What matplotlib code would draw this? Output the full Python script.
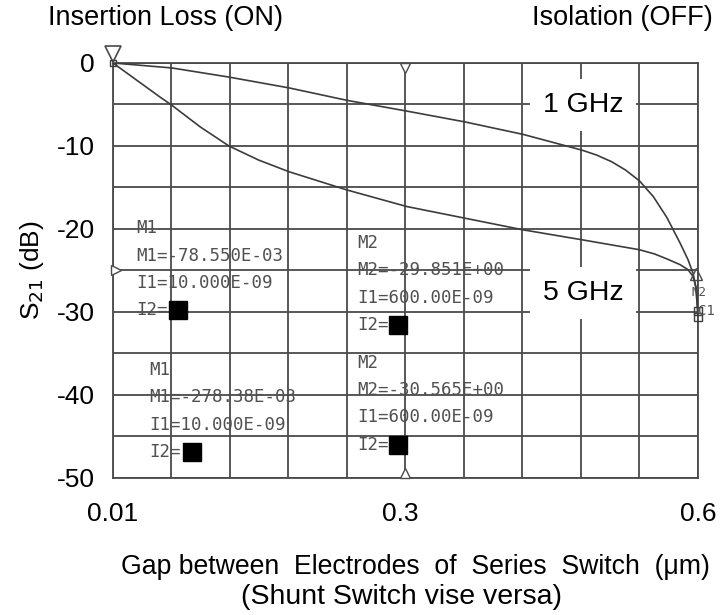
import numpy as np
import matplotlib.pyplot as plt

# gap (um) vs S21 (dB)
gap_1ghz = [0.010, 0.0695, 0.127, 0.1875, 0.246, 0.3065, 0.365, 0.4235, 0.483,
            0.498, 0.513, 0.527, 0.541, 0.555, 0.5686, 0.582, 0.590, 0.595, 0.598, 0.600]
s21_1ghz = [0.0, -0.6, -1.7, -3.0, -4.5, -5.8, -7.1, -8.6, -10.5,
            -11.1, -11.9, -12.9, -14.2, -16.1, -18.6, -21.7, -23.7, -25.3, -27.1, -29.85]

gap_5ghz = [0.010, 0.0574, 0.0695, 0.098, 0.127, 0.157, 0.1875, 0.246, 0.3065, 0.365,
            0.4235, 0.483, 0.512, 0.541, 0.556, 0.5686, 0.582, 0.590, 0.595, 0.598, 0.600]
s21_5ghz = [0.0, -4.1, -5.1, -7.7, -10.0, -11.7, -13.1, -15.3, -17.3, -18.7,
            -20.1, -21.3, -21.9, -22.5, -23.0, -23.6, -24.3, -24.9, -25.7, -27.0, -30.57]

x_ticks = [0.01, 0.3, 0.6]
x_ticklabels = ['0.01', '0.3', '0.6']
y_ticks = [0, -10, -20, -30, -40, -50]

# marker readouts (ADS style)
m1_1ghz = ['M1', 'M1=-78.550E-03', 'I1=10.000E-09', 'I2=']
m1_5ghz = ['M1', 'M1=-278.38E-03', 'I1=10.000E-09', 'I2=']
m2_1ghz = ['M2', 'M2=-29.851E+00', 'I1=600.00E-09', 'I2=']
m2_5ghz = ['M2', 'M2=-30.565E+00', 'I1=600.00E-09', 'I2=']

plt.rcParams['font.family'] = ['Liberation Sans', 'DejaVu Sans']
plt.rcParams['axes.unicode_minus'] = False
line_col = '#3c3c3c'
grid_col = '#4a4a4a'
txt_col = '#505050'

fig = plt.figure(figsize=(7.24, 6.15), dpi=100)
ax = fig.add_axes([0.156, 0.2228, 0.808, 0.6748])

ax.plot(gap_1ghz, s21_1ghz, color=line_col, lw=1.2, zorder=4)
ax.plot(gap_5ghz, s21_5ghz, color=line_col, lw=1.2, zorder=4)

ax.set_xlim(0.01, 0.6)
ax.set_ylim(-50, 0)
ax.set_xticks(x_ticks)
ax.set_xticklabels(x_ticklabels)
ax.set_yticks(y_ticks)
ax.tick_params(which='both', length=0)
ax.tick_params(axis='x', pad=17, labelsize=19)
ax.tick_params(axis='y', pad=13, labelsize=19)
for v in np.linspace(0.01, 0.6, 11):
    ax.axvline(v, color=grid_col, lw=1.3, zorder=1)
for v in np.arange(-50, 1, 5):
    ax.axhline(v, color=grid_col, lw=1.3, zorder=1)
for s in ax.spines.values():
    s.set_color(grid_col)
    s.set_linewidth(1.3)

# axis midpoint markers
ax.plot([0.305], [-0.6], marker='v', ms=7, mfc='white', mec=grid_col, mew=1, zorder=5, clip_on=False)
ax.plot([0.305], [-49.4], marker='^', ms=7, mfc='white', mec=grid_col, mew=1, zorder=5, clip_on=False)
ax.plot([0.0135], [-25], marker='>', ms=7, mfc='white', mec=grid_col, mew=1, zorder=5, clip_on=False)

# marker M1 at top-left, M2 cluster at the right end
ax.plot([0.01], [1.1], marker='v', ms=12, mfc='white', mec=grid_col, mew=1.2, zorder=6, clip_on=False)
ax.plot([0.01], [0.0], marker='s', ms=5, mfc='none', mec=line_col, mew=1, zorder=6, clip_on=False)
ax.plot([0.5985], [-25.4], marker='^', ms=8, mfc='none', mec=grid_col, mew=1, zorder=6, clip_on=False)
ax.plot([0.6, 0.6], [s21_1ghz[-1], s21_5ghz[-1]], ls='none', marker='s', ms=6, mfc='none',
        mec=line_col, mew=1, zorder=6, clip_on=False)
ax.text(0.5935, -27.6, 'M2', fontsize=9, family='DejaVu Sans Mono', color=txt_col,
        va='center', ha='left', zorder=6, clip_on=False)
ax.text(0.6005, -29.9, 'C1', fontsize=10, family='DejaVu Sans Mono', color=txt_col,
        va='center', ha='left', zorder=6, clip_on=False)


def readout(x, y, lines, sq_x):
    for i, s in enumerate(lines):
        ax.text(x, y - i * 3.3, s, fontsize=12.5, family='DejaVu Sans Mono',
                color=txt_col, va='center', ha='left', zorder=3)
    ax.plot([sq_x], [y - 3 * 3.3], marker='s', ms=13, color='black', zorder=3)


readout(0.034, -19.9, m1_1ghz, 0.0756)
readout(0.047, -37.0, m1_5ghz, 0.0897)
readout(0.256, -21.7, m2_1ghz, 0.297)
readout(0.256, -36.1, m2_5ghz, 0.297)

box = dict(facecolor='white', edgecolor='none', boxstyle='square,pad=0.45')
ax.text(0.484, -5.1, '1 GHz', fontsize=20.5, ha='center', va='center', zorder=3, bbox=box)
ax.text(0.484, -27.7, '5 GHz', fontsize=20.5, ha='center', va='center', zorder=3, bbox=box)

ax.set_ylabel('S$_{21}$ (dB)', fontsize=19, labelpad=8)
fig.text(0.574, 0.078, 'Gap between  Electrodes  of  Series  Switch  (\u03bcm)',
         fontsize=19.2, ha='center', va='center')
fig.text(0.554, 0.029, '(Shunt Switch vise versa)', fontsize=20.5, ha='center', va='center')

fig.text(0.066, 0.97, 'Insertion Loss (ON)', fontsize=19.5, ha='left', va='center')
fig.text(0.984, 0.97, 'Isolation (OFF)', fontsize=19.5, ha='right', va='center')

fig.savefig('out.png', dpi=100, facecolor='white')
